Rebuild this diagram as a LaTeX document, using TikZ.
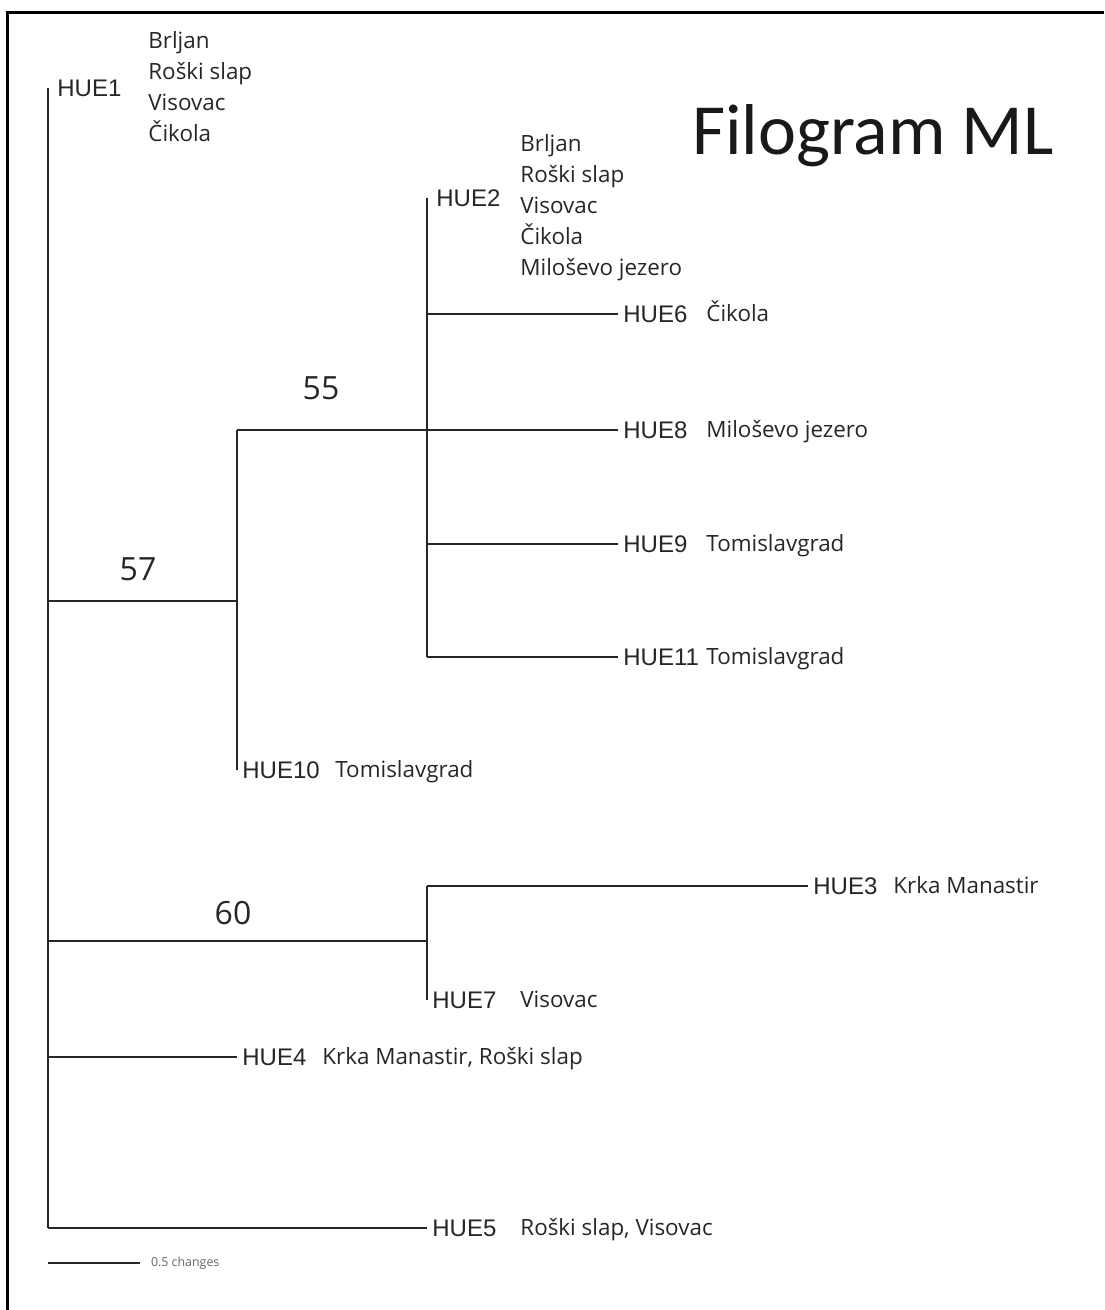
\documentclass[tikz,border=0pt]{standalone}
\usepackage{fontspec}
\setmainfont{Open Sans}
\newfontfamily\tipfont{Liberation Sans}
\newfontfamily\titlefont{Carlito}
\usetikzlibrary{positioning}

\begin{document}
\begin{tikzpicture}[x=0.5pt, y=-0.5pt,
    branch/.style={line width=1pt, draw=black!85},
    tip/.style={anchor=west, inner sep=2.5pt, text=black!85,
        font=\tipfont\fontsize{12}{14}\selectfont},
    toptip/.style={tip, inner xsep=4.5pt},
    place/.style={anchor=base west, inner sep=0pt, align=left, text=black!85,
        font=\fontsize{11.2}{15.5}\selectfont},
    placelist/.style={place, anchor=north west},
    boot/.style={inner sep=0pt, text=black!85, font=\fontsize{16}{18}\selectfont}]
    \useasboundingbox (0, 0) rectangle (1104, 1310);
    % frame
    \draw[line width=1.5pt] (7, 1310) -- (7, 12.5) -- (1104, 12.5);
    \node[anchor=base, inner sep=0pt, text=black!90, font=\titlefont\fontsize{36}{40}\selectfont] (title) at (873, 155) {Filogram ML};

    % tips
    \node[toptip] (hue1) at (48, 88) {HUE1};
    \node[toptip] (hue2) at (427, 198) {HUE2};
    \node[tip] (hue6) at (618, 314) {HUE6};
    \node[tip] (hue8) at (618, 430) {HUE8};
    \node[tip] (hue9) at (618, 544) {HUE9};
    \node[tip] (hue11) at (618, 657) {HUE11};
    \node[tip] (hue10) at (237, 770) {HUE10};
    \node[tip] (hue3) at (808, 886) {HUE3};
    \node[tip] (hue7) at (427, 1000) {HUE7};
    \node[tip] (hue4) at (237, 1057) {HUE4};
    \node[tip] (hue5) at (427, 1228) {HUE5};

    % internal nodes
    \coordinate (n57) at (237, 601);
    \coordinate (n55) at (427, 430);
    \coordinate (n60) at (427, 941);

    % root
    \draw[branch] (hue1.west) -- (hue1.west |- hue5.west);
    \draw[branch] (hue1.west |- n57) -- (n57);
    \draw[branch] (hue1.west |- n60) -- (n60);
    \draw[branch] (hue1.west |- hue4.west) -- (hue4.west);
    \draw[branch] (hue1.west |- hue5.west) -- (hue5.west);
    % clade 57
    \draw[branch] (n57 |- n55) -- (hue10.west);
    \draw[branch] (n57 |- n55) -- (n55);
    % clade 55
    \draw[branch] (hue2.west) -- (hue2.west |- hue11.west);
    \draw[branch] (n55 |- hue6.west) -- (hue6.west);
    \draw[branch] (n55) -- (hue8.west);
    \draw[branch] (n55 |- hue9.west) -- (hue9.west);
    \draw[branch] (n55 |- hue11.west) -- (hue11.west);
    % clade 60
    \draw[branch] (n60 |- hue3.west) -- (hue7.west);
    \draw[branch] (n60 |- hue3.west) -- (hue3.west);

    % support values
    \node[boot] (b57) at (138, 569) {57};
    \node[boot] (b55) at (321, 388) {55};
    \node[boot] (b60) at (233, 913) {60};

    % localities
    \node[placelist] (p1) at (148, 31) {Brljan\\Roški slap\\Visovac\\Čikola};
    \node[placelist] (p2) at (520, 134) {Brljan\\Roški slap\\Visovac\\Čikola\\Miloševo jezero};
    \node[place] (p6) at (706, 321.5) {Čikola};
    \node[place] (p8) at (706, 437.5) {Miloševo jezero};
    \node[place] (p9) at (706, 551.5) {Tomislavgrad};
    \node[place] (p11) at (706, 664.5) {Tomislavgrad};
    \node[place] (p10) at (335, 777.5) {Tomislavgrad};
    \node[place] (p3) at (893, 893.5) {Krka Manastir};
    \node[place] (p7) at (520, 1007.5) {Visovac};
    \node[place] (p4) at (322, 1064.5) {Krka Manastir, Roški slap};
    \node[place] (p5) at (520, 1235.5) {Roški slap, Visovac};

    % scale bar
    \coordinate (s0) at (48, 1263);
    \coordinate (s1) at (140, 1263);
    \draw[branch] (s0) -- (s1) node[right, inner sep=5pt, text=black!60, font=\fontsize{6.2}{7}\selectfont] (scale) {0.5 changes};
\end{tikzpicture}
\end{document}
